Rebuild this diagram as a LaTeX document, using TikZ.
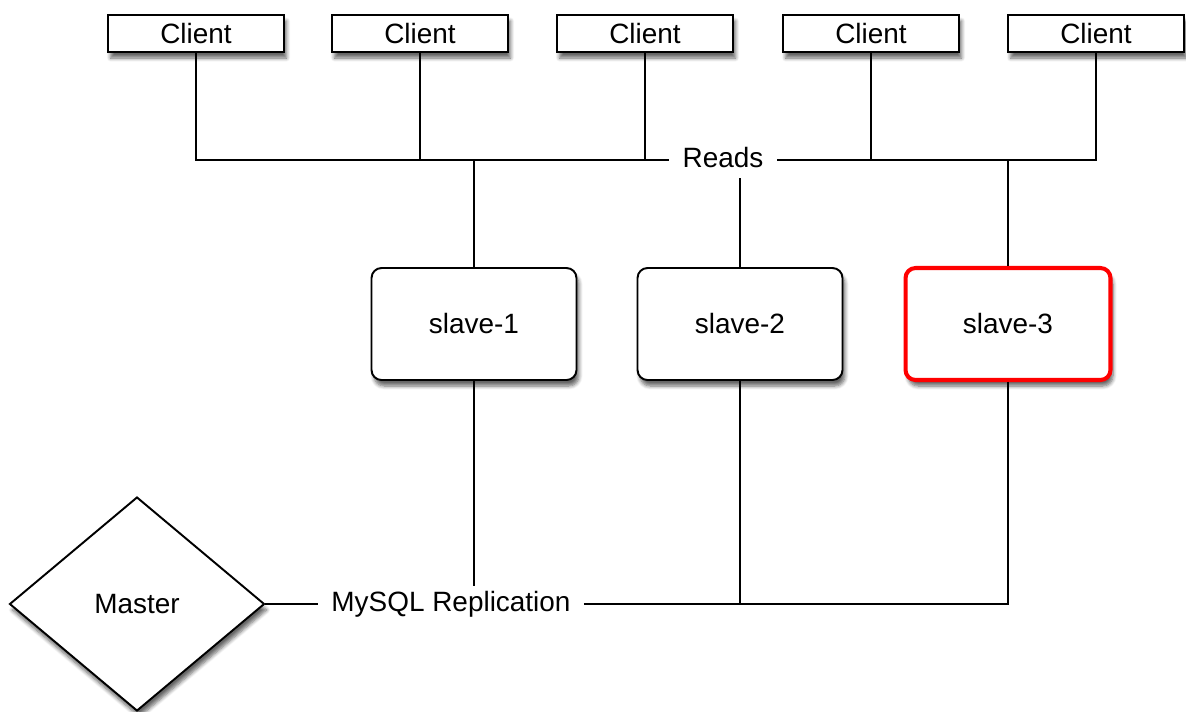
\documentclass[tikz,border=0pt]{standalone}
\usepackage{fontspec}
\setmainfont{Liberation Sans}
\usetikzlibrary{shapes.geometric,shadows.blur}
\begin{document}
\begin{tikzpicture}[x=0.02cm,y=-0.02cm,
  every node/.style={font=\fontsize{15.9}{19}\selectfont},
  conn/.style={line width=1.1pt},
  sh/.style={blur shadow={shadow xshift=0.05cm,shadow yshift=-0.12cm,shadow blur steps=6,shadow opacity=60}},
  clientbox/.style={draw,line width=1.1pt,fill=white,minimum width=3.52cm,minimum height=0.74cm,inner sep=0pt,sh},
  slavebox/.style={draw,line width=1.1pt,fill=white,rounded corners=0.2cm,minimum width=4.1cm,minimum height=2.24cm,inner sep=0pt,sh},
  label/.style={inner xsep=0.26cm,inner ysep=0.1cm,text height=0.4cm,text depth=0.12cm}]
\useasboundingbox (0,0) rectangle (1186,711);
\node[clientbox] (c1) at (196,33.5) {Client};
\node[clientbox] (c2) at (420,33.5) {Client};
\node[clientbox] (c3) at (645,33.5) {Client};
\node[clientbox] (c4) at (871,33.5) {Client};
\node[clientbox] (c5) at (1096,33.5) {Client};
\node[label] (reads) at (723,160) {Reads};
\node[slavebox] (s1) at (474,324) {slave-1};
\node[slavebox] (s2) at (740,324) {slave-2};
\node[slavebox,draw=red,line width=2.3pt] (s3) at (1008,324) {slave-3};
\node[draw,diamond,line width=1.1pt,fill=white,minimum width=5.1cm,minimum height=4.28cm,inner sep=0pt,sh] (m) at (137,604) {Master};
\node[label] (rep) at (451,604) {MySQL Replication};
% reads connectors
\draw[conn] (c1.south) |- (reads.west);
\draw[conn] (c2.south) -- (c2.south |- reads.west);
\draw[conn] (c3.south) -- (c3.south |- reads.west);
\draw[conn] (s1.north) -- (s1.north |- reads.west);
\draw[conn] (c5.south) |- (reads.east);
\draw[conn] (c4.south) -- (c4.south |- reads.east);
\draw[conn] (s3.north) -- (s3.north |- reads.east);
\draw[conn] (s2.north) -- (s2.north |- reads.south);
% replication connectors
\draw[conn] (m.east) -- (rep.west);
\draw[conn] (rep.east) -| (s3.south);
\draw[conn] (s2.south) -- (s2.south |- rep.east);
\draw[conn] (s1.south) -- (s1.south |- rep.north);
\end{tikzpicture}
\end{document}
